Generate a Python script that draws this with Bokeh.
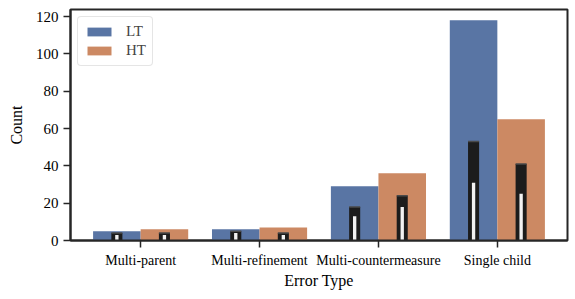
from bokeh.plotting import figure
from bokeh.models import Range1d, FixedTicker, Legend, LegendItem
from bokeh.embed import file_html
from bokeh.resources import INLINE

categories = ["Multi-parent", "Multi-refinement", "Multi-countermeasure", "Single child"]
lt_total = [5, 6, 29, 118]
ht_total = [6, 7, 36, 65]
lt_inner = [4, 5, 18, 53]
ht_inner = [4, 4, 24, 41]
lt_core = [3, 4, 13, 31]
ht_core = [3, 3, 18, 25]
y_ticks = [0, 20, 40, 60, 80, 100, 120]

FONT = "Liberation Serif"
AX = "#262626"
LT_C = "#5975a4"
HT_C = "#cc8963"

idx = list(range(len(categories)))
lt_x = [i - 0.2 for i in idx]
ht_x = [i + 0.2 for i in idx]

p = figure(width=575, height=299, output_backend="svg", toolbar_location=None,
           x_range=Range1d(-0.59, 3.59), y_range=Range1d(0, 123.75),
           min_border_left=70, min_border_right=8, min_border_top=9, min_border_bottom=59)

r_lt = p.vbar(x=lt_x, top=lt_total, width=0.4, fill_color=LT_C, line_color=None)
r_ht = p.vbar(x=ht_x, top=ht_total, width=0.4, fill_color=HT_C, line_color=None)

for xs, tops in ((lt_x, lt_inner), (ht_x, ht_inner)):
    p.vbar(x=xs, top=tops, width=0.093, fill_color="#1c1c1c", line_color=None)
    p.segment(x0=[x - 0.0465 for x in xs], x1=[x + 0.0465 for x in xs], y0=tops, y1=tops,
              line_color="#4a4a4a", line_width=1.5)
for xs, tops in ((lt_x, lt_core), (ht_x, ht_core)):
    p.vbar(x=xs, top=tops, width=0.028, fill_color="#f2f2f2", line_color=None)

p.xgrid.visible = False
p.ygrid.visible = False
p.outline_line_color = AX
p.outline_line_width = 2
p.outline_line_alpha = 1
p.background_fill_color = "white"
p.border_fill_color = "white"

p.xaxis.ticker = FixedTicker(ticks=idx)
p.xaxis.major_label_overrides = {i: c for i, c in enumerate(categories)}
p.yaxis.ticker = FixedTicker(ticks=y_ticks)

p.axis.axis_line_color = AX
p.axis.axis_line_width = 2
p.axis.major_tick_line_color = AX
p.axis.major_tick_line_width = 1.5
p.axis.major_tick_out = 7
p.axis.major_tick_in = 0
p.axis.minor_tick_out = 0
p.axis.minor_tick_in = 0
p.axis.major_label_text_font = FONT
p.axis.major_label_text_font_style = "normal"
p.axis.major_label_text_color = "black"
p.axis.axis_label_text_font = FONT
p.axis.axis_label_text_font_style = "normal"
p.axis.axis_label_text_font_size = "16px"
p.axis.axis_label_text_color = "black"
p.axis.major_label_standoff = 5

p.xaxis.axis_label = "Error Type"
p.yaxis.axis_label = "Count"
p.xaxis.major_label_text_font_size = "14px"
p.yaxis.major_label_text_font_size = "15px"
p.xaxis.axis_label_standoff = 1
p.yaxis.axis_label_standoff = 8

legend = Legend(items=[LegendItem(label="LT", renderers=[r_lt]),
                       LegendItem(label="HT", renderers=[r_ht])],
                location="top_left")
legend.label_text_font = FONT
legend.label_text_font_size = "15px"
legend.glyph_width = 30
legend.glyph_height = 11
legend.label_standoff = 12
legend.spacing = 2
legend.padding = 6
legend.margin = 7
legend.border_line_color = "#cccccc"
legend.border_line_width = 1
legend.border_radius = 4
legend.background_fill_alpha = 0.8
p.add_layout(legend)

open("out.html", "w").write(file_html(p, INLINE))
